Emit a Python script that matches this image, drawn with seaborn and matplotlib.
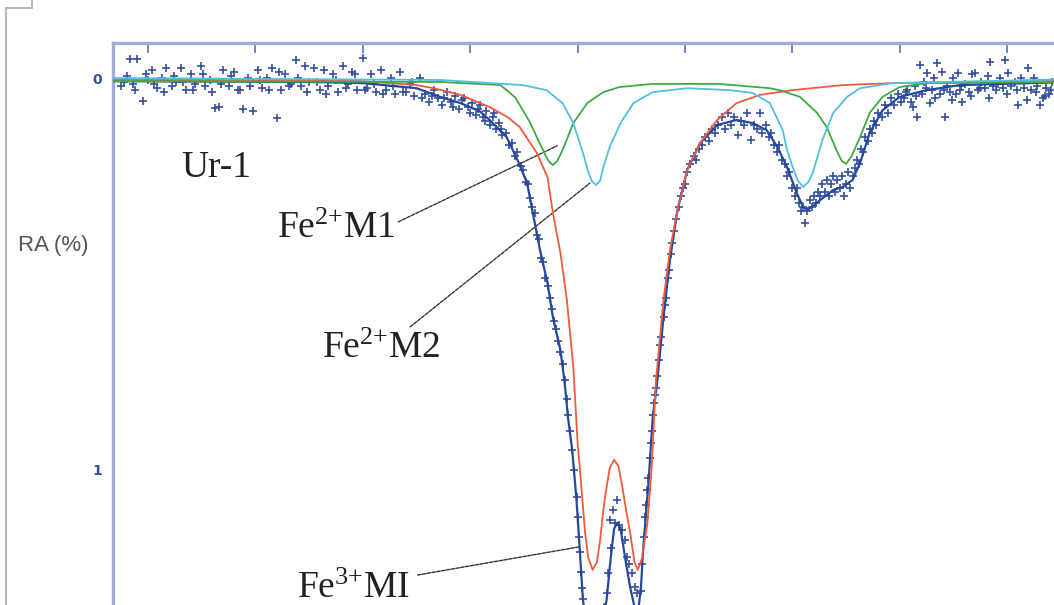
import matplotlib
matplotlib.use("Agg")
import matplotlib.pyplot as plt
import seaborn as sns
import pandas as pd
from matplotlib.lines import Line2D

# ---------------- data (velocity mm/s, RA %) ----------------
# Fe3+ M1 doublet (red)
fe3_v = [-4.33, -2.5, -2.0, -1.5, -1.34, -1.09, -0.82, -0.65, -0.54, -0.38, -0.28, -0.23, -0.16,
         -0.10, -0.04, 0.00, 0.02, 0.07, 0.10, 0.14, 0.18, 0.21, 0.24, 0.27, 0.30, 0.34, 0.38,
         0.41, 0.45, 0.49, 0.53, 0.56, 0.60, 0.65, 0.69, 0.73, 0.80, 0.86, 0.93, 1.02, 1.14,
         1.30, 1.48, 1.70, 2.0, 2.47, 2.94, 3.56, 4.6]
fe3_ra = [0.005, 0.005, 0.008, 0.018, 0.026, 0.043, 0.074, 0.100, 0.125, 0.191, 0.253, 0.344, 0.446,
          0.566, 0.737, 0.931, 0.992, 1.161, 1.225, 1.255, 1.235, 1.179, 1.100, 1.043, 0.995, 0.974, 0.990,
          1.033, 1.100, 1.161, 1.235, 1.255, 1.225, 1.135, 0.992, 0.770, 0.566, 0.439, 0.337, 0.235, 0.166,
          0.107, 0.064, 0.043, 0.031, 0.018, 0.013, 0.010, 0.005]

# Fe2+ M1 doublet (green)
m1_v = [-4.33, -1.5, -1.28, -0.72, -0.66, -0.58, -0.51, -0.44, -0.38, -0.29, -0.26, -0.23, -0.19,
        -0.14, -0.04, 0.09, 0.24, 0.39, 0.70, 1.32, 1.79, 1.88, 2.07, 2.23, 2.32, 2.41, 2.46, 2.50,
        2.55, 2.63, 2.72, 2.84, 3.0, 3.25, 4.6]
m1_ra = [0.008, 0.010, 0.010, 0.018, 0.031, 0.050, 0.082, 0.115, 0.151, 0.202, 0.215, 0.222, 0.212,
         0.184, 0.115, 0.064, 0.036, 0.023, 0.015, 0.015, 0.026, 0.031, 0.048, 0.089, 0.125, 0.184, 0.212, 0.219,
         0.200, 0.151, 0.089, 0.048, 0.023, 0.013, 0.010]

# Fe2+ M2 doublet (cyan)
m2_v = [-4.33, -1.28, -0.51, -0.29, -0.14, -0.04, 0.05, 0.10, 0.13, 0.17, 0.21, 0.24, 0.30, 0.40,
        0.52, 0.70, 1.02, 1.42, 1.63, 1.79, 1.91, 1.95, 2.00, 2.05, 2.10, 2.15, 2.19, 2.28, 2.38,
        2.51, 2.63, 2.94, 4.6]
m2_ra = [0.000, 0.005, 0.018, 0.031, 0.064, 0.115, 0.191, 0.240, 0.262, 0.273, 0.262, 0.227, 0.175, 0.115,
         0.064, 0.036, 0.026, 0.031, 0.038, 0.064, 0.133, 0.184, 0.225, 0.262, 0.278, 0.265, 0.242, 0.158, 0.089,
         0.048, 0.026, 0.013, 0.003]

# total fit (dark blue)
tot_v = [-4.33, -2.5, -2.0, -1.5, -1.28, -1.09, -0.91, -0.82, -0.66, -0.56, -0.47, -0.41, -0.35, -0.28,
         -0.23, -0.16, -0.12, -0.09, -0.05, -0.01, 0.02, 0.05, 0.10, 0.16, 0.22, 0.27, 0.31, 0.34, 0.37,
         0.40, 0.44, 0.49, 0.53, 0.56, 0.59, 0.61, 0.66, 0.70, 0.74, 0.80, 0.86, 0.93, 1.02, 1.14, 1.30,
         1.48, 1.63, 1.76, 1.86, 1.95, 2.04, 2.10, 2.14, 2.20, 2.26, 2.38, 2.47, 2.56, 2.63, 2.72, 2.84,
         3.0, 3.25, 3.56, 4.6]
tot_ra = [0.008, 0.010, 0.013, 0.026, 0.048, 0.064, 0.085, 0.107, 0.151, 0.209, 0.268, 0.354, 0.439, 0.523,
          0.610, 0.694, 0.778, 0.865, 0.949, 1.077, 1.204, 1.332, 1.430, 1.460, 1.410, 1.332, 1.220, 1.150, 1.135,
          1.150, 1.220, 1.300, 1.350, 1.370, 1.300, 1.204, 1.033, 0.865, 0.778, 0.610, 0.464, 0.337, 0.235, 0.166, 0.120,
          0.107, 0.115, 0.133, 0.176, 0.227, 0.293, 0.329, 0.337, 0.325, 0.311, 0.286, 0.278, 0.260, 0.217, 0.140, 0.082,
          0.048, 0.031, 0.018, 0.010]

# measured points (+)
data_v_a = [-4.25, -4.20, -4.17, -4.14, -4.10, -4.05, -4.00, -3.96, -3.92, -3.87, -3.83, -3.78, -3.74, -3.69,
            -3.65, -3.60, -3.56, -3.51, -3.47, -3.42, -3.38, -3.34, -3.30, -3.25, -3.20, -3.16, -3.12, -3.07,
            -3.02, -2.98, -2.94, -2.89, -2.85, -2.80, -2.76, -2.72, -2.67, -2.62, -2.58, -2.54, -2.50, -2.45,
            -2.40, -2.36, -2.32, -2.28, -2.23, -2.18, -2.14, -2.10, -2.05, -2.00, -1.96, -1.92, -1.88, -1.83,
            -1.78, -1.74, -1.70, -1.65, -1.60, -1.56, -1.52, -1.47, -1.42, -1.38, -1.34, -1.30]
data_ra_a = [0.020, -0.005, -0.048, 0.015, -0.048, 0.059, 0.005, -0.020, 0.025, 0.000, -0.025, 0.020, 0.010, -0.025,
             0.030, -0.010, 0.015, -0.030, 0.020, 0.005, 0.077, 0.075, -0.020, 0.020, -0.015, 0.030, 0.079, 0.000,
             0.084, -0.020, 0.025, 0.000, -0.025, 0.102, 0.030, -0.010, 0.015, -0.046, 0.020, -0.030, 0.010, -0.025,
             0.030, -0.020, 0.020, -0.010, 0.035, -0.030, 0.015, -0.015, 0.030, -0.052, 0.025, -0.010, 0.035, -0.020,
             0.030, 0.000, 0.040, -0.015, 0.035, 0.015, 0.045, 0.000, 0.040, 0.060, 0.030, 0.050]
data_v_a2 = [-4.22, -4.12, -4.02, -3.94, -3.85, -3.76, -3.67, -3.58, -3.49, -3.40, -3.32, -3.23, -3.14, -3.05,
             -2.96, -2.87, -2.78, -2.69, -2.60, -2.52, -2.43, -2.34, -2.25, -2.16, -2.07, -1.98, -1.90, -1.81,
             -1.72, -1.63, -1.54, -1.45, -1.36]
data_ra_a2 = [0.010, 0.030, -0.010, 0.015, 0.035, -0.005, 0.010, 0.030, -0.010, 0.035, 0.015, -0.005, 0.030, 0.020,
              0.005, 0.030, -0.015, 0.020, 0.000, 0.035, 0.010, 0.040, 0.005, 0.025, -0.010, 0.030, 0.015, 0.040,
              0.020, 0.035, 0.010, 0.050, 0.045]

data_v_b = [-1.26, -1.22, -1.18, -1.14, -1.10, -1.06, -1.02, -0.98, -0.95, -0.91, -0.88, -0.85, -0.82, -0.79,
            -0.76, -0.73, -0.70, -0.67, -0.64, -0.61, -0.58, -0.56, -0.53, -0.51, -0.48, -0.46, -0.44, -0.42,
            -0.40, -0.38, -0.36, -0.34, -0.32, -0.30, -0.28, -0.26, -0.24, -0.22, -0.20, -0.18, -0.16, -0.14,
            -0.12, -0.10, -0.09, -0.07, -0.05, -0.03, -0.01, 0.00, 0.01, 0.02, 0.03, 0.04, 0.05]
data_ra_b = [0.070, 0.035, 0.060, 0.045, 0.080, 0.050, 0.075, 0.065, 0.095, 0.070, 0.100, 0.085, 0.120, 0.100,
             0.130, 0.115, 0.145, 0.140, 0.170, 0.165, 0.200, 0.190, 0.225, 0.235, 0.265, 0.270, 0.305, 0.330,
             0.345, 0.400, 0.410, 0.460, 0.470, 0.510, 0.530, 0.560, 0.590, 0.620, 0.640, 0.670, 0.700, 0.730,
             0.770, 0.820, 0.860, 0.900, 0.950, 1.000, 1.070, 1.120, 1.170, 1.210, 1.260, 1.300, 1.330]
data_v_b2 = [-1.24, -1.16, -1.08, -1.00, -0.93, -0.86, -0.78, -0.71]
data_ra_b2 = [0.050, 0.075, 0.055, 0.090, 0.080, 0.110, 0.090, 0.130]

data_v_c = [0.06, 0.08, 0.12, 0.18, 0.22, 0.25, 0.27, 0.28, 0.30, 0.31, 0.33, 0.35, 0.37, 0.39, 0.41,
            0.44, 0.46, 0.48, 0.51, 0.53, 0.55, 0.57, 0.59]
data_ra_c = [1.36, 1.40, 1.44, 1.45, 1.40, 1.35, 1.314, 1.263, 1.128, 1.20, 1.102, 1.135, 1.077, 1.14, 1.153,
             1.179, 1.222, 1.24, 1.263, 1.298, 1.314, 1.36, 1.31]

data_v_d = [0.60, 0.62, 0.63, 0.64, 0.65, 0.66, 0.67, 0.68, 0.69, 0.70, 0.71, 0.72, 0.73, 0.74, 0.76,
            0.77, 0.78, 0.80, 0.81, 0.82, 0.84, 0.85, 0.87, 0.88, 0.90, 0.92, 0.94, 0.96, 0.98, 1.00,
            1.02, 1.05, 1.08, 1.10, 1.13, 1.16, 1.19, 1.22, 1.25, 1.28, 1.31]
data_ra_d = [1.24, 1.17, 1.12, 1.09, 1.05, 1.02, 0.97, 0.93, 0.90, 0.86, 0.83, 0.81, 0.79, 0.76, 0.72,
             0.68, 0.66, 0.61, 0.58, 0.56, 0.51, 0.49, 0.45, 0.42, 0.39, 0.36, 0.33, 0.30, 0.28, 0.27,
             0.24, 0.22, 0.20, 0.21, 0.18, 0.17, 0.15, 0.16, 0.13, 0.14, 0.12]

data_v_e = [1.34, 1.37, 1.40, 1.43, 1.46, 1.49, 1.52, 1.55, 1.58, 1.61, 1.64, 1.67, 1.70, 1.72, 1.75,
            1.78, 1.80, 1.83, 1.86, 1.88, 1.90, 1.93, 1.95, 1.97, 2.00, 2.02, 2.04, 2.06, 2.08, 2.10,
            2.12, 2.14, 2.16, 2.18, 2.20, 2.22, 2.24, 2.26, 2.28, 2.30, 2.32, 2.34, 2.36, 2.38, 2.40,
            2.42, 2.44, 2.46, 2.48, 2.50, 2.52, 2.54, 2.56, 2.58, 2.60, 2.62, 2.64, 2.66, 2.68, 2.70,
            2.72, 2.74, 2.76, 2.78, 2.80, 2.83, 2.86, 2.89, 2.92, 2.95, 2.98, 3.01]
data_ra_e = [0.10, 0.13, 0.09, 0.12, 0.10, 0.145, 0.11, 0.12, 0.09, 0.158, 0.12, 0.13, 0.09, 0.14, 0.12,
             0.15, 0.14, 0.17, 0.19, 0.17, 0.21, 0.22, 0.25, 0.24, 0.28, 0.30, 0.28, 0.32, 0.34, 0.33,
             0.37, 0.34, 0.31, 0.33, 0.30, 0.32, 0.29, 0.30, 0.27, 0.29, 0.26, 0.30, 0.27, 0.25, 0.29,
             0.26, 0.28, 0.25, 0.30, 0.27, 0.24, 0.28, 0.25, 0.23, 0.21, 0.22, 0.18, 0.19, 0.15, 0.16,
             0.13, 0.14, 0.11, 0.12, 0.09, 0.10, 0.07, 0.09, 0.05, 0.07, 0.04, 0.06]

data_v_f = [3.04, 3.07, 3.10, 3.12, 3.14, 3.16, 3.19, 3.21, 3.23, 3.25, 3.28, 3.30, 3.32, 3.35, 3.37,
            3.39, 3.42, 3.44, 3.47, 3.50, 3.52, 3.54, 3.56, 3.58, 3.61, 3.64, 3.67, 3.70, 3.73, 3.76,
            3.79, 3.82, 3.84, 3.87, 3.90, 3.93, 3.96, 3.98, 4.01, 4.04, 4.07, 4.10, 4.13, 4.16, 4.19,
            4.22, 4.25, 4.28, 4.31, 4.33, 4.36, 4.39, 4.42]
data_ra_f = [0.05, 0.03, 0.06, 0.074, 0.02, 0.10, -0.033, 0.04, 0.01, -0.013, 0.064, 0.03, 0.00, -0.038, 0.04,
             -0.015, 0.10, 0.02, 0.035, 0.00, 0.04, -0.013, 0.03, 0.061, 0.015, 0.035, -0.01, -0.013, 0.03, 0.01,
             0.025, -0.005, -0.041, 0.02, 0.03, 0.00, 0.025, -0.046, -0.013, 0.02, 0.01, 0.069, 0.00, 0.025, -0.026,
             0.03, 0.00, 0.02, 0.069, 0.051, 0.025, 0.04, 0.01]
data_v_f2 = [3.06, 3.15, 3.24, 3.33, 3.41, 3.49, 3.57, 3.66, 3.75, 3.83, 3.91, 4.00, 4.09, 4.18, 4.27, 4.35, 4.41]
data_ra_f2 = [0.035, 0.045, 0.025, 0.050, 0.030, 0.055, 0.020, 0.045, 0.025, 0.050, 0.015, 0.040, 0.030, 0.055,
              0.035, 0.045, 0.030]

xtick_pos = [-4, -3, -2, -1, 0, 1, 2, 3, 4]
ytick_pos = [0, 0.1667, 0.3333, 0.5, 0.6667, 0.8333, 1.0, 1.1667, 1.3333]
ytick_labels = ["0", "", "", "", "", "", "1", "", ""]

labels = ["Ur-1", "Fe$^{2{+}}$M1", "Fe$^{2{+}}$M2", "Fe$^{3{+}}$MI"]
label_pos = [(-3.69, 0.253), (-2.80, 0.408), (-2.38, 0.714), (-2.61, 1.327)]
# leader lines: (target point, text-side point)
leaders = [((-0.19, 0.173), (-1.67, 0.367)),
           ((0.115, 0.268), (-1.56, 0.635)),
           ((0.02, 1.196), (-1.49, 1.268))]

# ---------------- style ----------------
sns.set_style("white")
plt.rcParams["font.family"] = ["Liberation Serif", "DejaVu Serif"]
plt.rcParams["mathtext.fontset"] = "custom"
plt.rcParams["mathtext.rm"] = "Liberation Serif"
plt.rcParams["mathtext.it"] = "Liberation Serif:italic"
plt.rcParams["mathtext.bf"] = "Liberation Serif:bold"
plt.rcParams["mathtext.default"] = "rm"

fig = plt.figure(figsize=(10.54, 6.05), dpi=100)
ax = fig.add_axes([113 / 1054, -0.0489, 0.9095, 0.9778])

data = pd.DataFrame({
    "v": data_v_a + data_v_a2 + data_v_b + data_v_b2 + data_v_c + data_v_d + data_v_e + data_v_f + data_v_f2,
    "ra": data_ra_a + data_ra_a2 + data_ra_b + data_ra_b2 + data_ra_c + data_ra_d + data_ra_e + data_ra_f + data_ra_f2,
})

sns.scatterplot(data=data, x="v", y="ra", marker="+", s=34, color="#33509e",
                linewidth=1.2, ax=ax, zorder=3)
sns.lineplot(x=tot_v, y=tot_ra, color="#27479a", lw=1.6, ax=ax, zorder=4)
sns.lineplot(x=fe3_v, y=fe3_ra, color="#f25a3c", lw=1.3, ax=ax, zorder=5)
sns.lineplot(x=m1_v, y=m1_ra, color="#3faa45", lw=1.3, ax=ax, zorder=5)
sns.lineplot(x=m2_v, y=m2_ra, color="#4fc0e0", lw=1.3, ax=ax, zorder=5)

ax.set_xlim(-4.326, 4.6)
ax.set_ylim(1.42, -0.0893)
ax.set_xlabel("")
ax.set_ylabel("")

ax.set_xticks(xtick_pos)
ax.xaxis.tick_top()
ax.tick_params(axis="x", direction="in", length=7, width=1.2, colors="#5d6fc2",
               labeltop=False, labelbottom=False)
ax.set_yticks(ytick_pos)
ax.set_yticklabels(ytick_labels)
ax.tick_params(axis="y", direction="in", length=8, width=1.3, colors="#5d6fc2", pad=8)
for lab in ax.get_yticklabels():
    lab.set_fontfamily("DejaVu Sans")
    lab.set_fontweight("bold")
    lab.set_fontsize(10)
    lab.set_color("#3a4ea8")

for side in ["right", "bottom"]:
    ax.spines[side].set_visible(False)
for side in ["left", "top"]:
    ax.spines[side].set_color("#a3a9db")
    ax.spines[side].set_linewidth(2.4)

for txt, (x, y) in zip(labels, label_pos):
    ax.text(x, y, txt, fontsize=27, ha="left", va="baseline", color="#222222", zorder=6)

for (xy, xyt) in leaders:
    ax.annotate("", xy=xy, xytext=xyt,
                arrowprops=dict(arrowstyle="-", color="#333333", lw=1.0,
                                linestyle=(0, (2.5, 1)), shrinkA=0, shrinkB=0))

fig.text(18 / 1054, 1 - 245 / 605, "RA (%)", fontsize=16, family="Liberation Sans",
         color="#555555", ha="left", va="center")

# scan border
fig.add_artist(Line2D([6 / 1054, 6 / 1054], [1 - 8 / 605, 0], transform=fig.transFigure,
                      color="#b9b9b9", lw=1.5))
fig.add_artist(Line2D([6 / 1054, 32 / 1054], [1 - 8 / 605, 1 - 8 / 605], transform=fig.transFigure,
                      color="#b9b9b9", lw=1.5))
fig.add_artist(Line2D([32 / 1054, 32 / 1054], [1 - 8 / 605, 1], transform=fig.transFigure,
                      color="#b9b9b9", lw=1.5))

fig.savefig("out.png", dpi=100)
